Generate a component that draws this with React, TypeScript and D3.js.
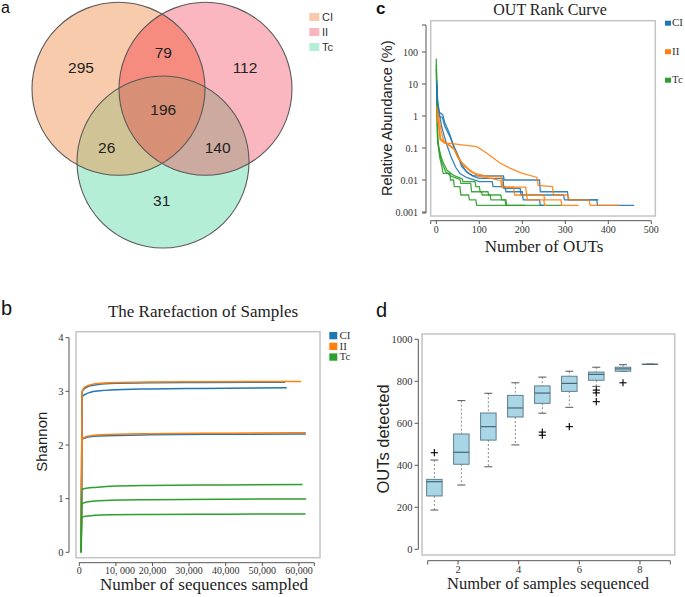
import React from 'react';
import * as d3 from 'd3';

// ---------- Panel a: Venn ----------
const vennSets = ['CI', 'II', 'Tc'];
const vennLegendColors = ['#f9c9ab', '#fbb5bf', '#b3eed6'];
const vennRegions = ['CI', 'CI∩II', 'II', 'CI∩II∩Tc', 'CI∩Tc', 'II∩Tc', 'Tc'];
const vennCounts = [295, 79, 112, 196, 26, 140, 31];

// ---------- shared groups ----------
const groups = ['CI', 'II', 'Tc'];
const groupColors = ['#1f77b4', '#ff7f0e', '#2ca02c'];

// ---------- Panel b: rarefaction (sequences, Shannon) ----------
const rareCI1 = [[500, 0], [750, 2.98], [1200, 3.04], [2400, 3.09], [4300, 3.12], [8400, 3.145], [19300, 3.16], [33000, 3.165], [56200, 3.17]];
const rareCI2 = [[500, 0], [750, 2.9], [1500, 2.94], [2900, 2.98], [5600, 3.01], [8400, 3.025], [19300, 3.045], [33000, 3.055], [56700, 3.065]];
const rareCI3 = [[500, 0], [750, 2.1], [1500, 2.13], [2900, 2.155], [5600, 2.17], [19300, 2.19], [40000, 2.2], [61900, 2.205]];
const rareII1 = [[500, 0], [750, 3.0], [1200, 3.06], [2400, 3.11], [4300, 3.14], [8400, 3.16], [19300, 3.175], [33000, 3.18], [60600, 3.185]];
const rareII2 = [[500, 0], [750, 2.11], [1500, 2.145], [2900, 2.17], [5600, 2.19], [19300, 2.21], [40000, 2.22], [61900, 2.228]];
const rareTc1 = [[500, 0], [750, 1.17], [1500, 1.19], [4300, 1.21], [8400, 1.23], [19300, 1.245], [40000, 1.255], [61000, 1.266]];
const rareTc2 = [[500, 0], [750, 0.9], [1500, 0.93], [4300, 0.955], [8400, 0.97], [19300, 0.98], [40000, 0.99], [62000, 0.995]];
const rareTc3 = [[500, 0], [750, 0.65], [1500, 0.67], [4300, 0.69], [8400, 0.7], [19300, 0.705], [40000, 0.71], [61800, 0.715]];
const rareTicks = [0, 10000, 20000, 30000, 40000, 50000, 60000];
const rareTickLabels = ['0', '10, 000', '20,000', '30,000', '40,000', '50,000', '60,000'];
const shannonTicks = [0, 1, 2, 3, 4];

// ---------- Panel c: rank abundance (rank, relative abundance %) ----------
const rankCI1 = [[1, 13], [3, 3.2], [8, 0.95], [14, 0.9], [20, 0.47], [32, 0.22], [44, 0.087], [51, 0.054], [59, 0.026], [75, 0.016], [90, 0.0126], [100, 0.0112], [155, 0.0112], [157, 0.0055], [195, 0.0055], [197, 0.0034], [296, 0.0034], [298, 0.0024], [373, 0.0024], [375, 0.0016], [460, 0.0016]];
const rankCI2 = [[1, 10], [3, 2.5], [7, 1.3], [15, 1.1], [20, 0.6], [30, 0.3], [40, 0.12], [50, 0.06], [60, 0.03], [70, 0.018], [85, 0.0135], [156, 0.0135], [158, 0.01], [240, 0.01], [242, 0.0043], [305, 0.0043], [307, 0.0024], [377, 0.0024]];
const rankCI3 = [[1, 8], [3, 2], [8, 1.0], [12, 0.5], [18, 0.25], [25, 0.12], [35, 0.05], [45, 0.025], [55, 0.016], [70, 0.012], [100, 0.0089], [130, 0.0089], [132, 0.0062], [160, 0.0062], [162, 0.0043], [200, 0.0043], [202, 0.0024], [240, 0.0024], [242, 0.0016], [251, 0.0016]];
const rankII1 = [[1, 1.5], [5, 0.6], [9, 0.18], [20, 0.14], [32, 0.14], [60, 0.125], [94, 0.11], [117, 0.07], [148, 0.034], [170, 0.024], [195, 0.017], [234, 0.012], [237, 0.0068], [270, 0.0062], [273, 0.0034], [306, 0.0034], [309, 0.0024], [355, 0.0024], [358, 0.0016], [424, 0.0016]];
const rankII2 = [[1, 2], [4, 1.2], [8, 0.6], [12, 0.3], [18, 0.16], [28, 0.13], [40, 0.1], [50, 0.05], [60, 0.035], [75, 0.022], [90, 0.016], [120, 0.013], [152, 0.013], [154, 0.006], [180, 0.006], [182, 0.0034], [250, 0.0034], [252, 0.0024], [290, 0.0024], [292, 0.0016], [331, 0.0016]];
const rankII3 = [[1, 1], [3, 0.7], [6, 0.5], [10, 0.2], [18, 0.15], [30, 0.12], [42, 0.09], [52, 0.05], [62, 0.03], [80, 0.018], [100, 0.013], [130, 0.011], [150, 0.0095], [152, 0.006], [208, 0.006], [210, 0.0034], [212, 0.0024], [250, 0.0024], [252, 0.0016], [257, 0.0016]];
const rankTc1 = [[0, 63], [1, 10], [2, 1], [3, 0.3], [5, 0.1], [8, 0.05], [12, 0.03], [16, 0.016], [32, 0.016], [33, 0.01], [40, 0.01], [42, 0.0062], [55, 0.0062], [57, 0.0034], [75, 0.0034], [77, 0.0024], [92, 0.0024], [94, 0.0016], [292, 0.0016]];
const rankTc2 = [[0, 40], [1, 8], [2, 1], [3, 0.2], [6, 0.1], [10, 0.05], [15, 0.03], [22, 0.018], [35, 0.013], [55, 0.0105], [57, 0.0079], [80, 0.0079], [82, 0.0043], [105, 0.0043], [107, 0.0034], [125, 0.0034], [127, 0.0024], [160, 0.0024], [162, 0.0016], [206, 0.0016]];
const rankTc3 = [[0, 30], [1, 5], [2, 0.9], [3, 0.15], [6, 0.1], [10, 0.06], [16, 0.035], [25, 0.02], [40, 0.014], [60, 0.011], [62, 0.0089], [90, 0.0089], [92, 0.0062], [100, 0.0062], [102, 0.0043], [120, 0.0043], [122, 0.0034], [150, 0.0034], [152, 0.0024], [162, 0.0024], [164, 0.0016]];
const rankTicksX = [0, 100, 200, 300, 400, 500];
const rankTicksY = [100, 10, 1, 0.1, 0.01, 0.001];
const rankTickLabelsY = ['100', '10', '1', '0.1', '0.01', '0.001'];

// ---------- Panel d: OTU accumulation boxplot ----------
const boxPositions = [1.22, 2.11, 3.0, 3.89, 4.78, 5.67, 6.56, 7.44, 8.33];
const boxLow = [187, 306, 393, 497, 648, 676, 776, 848, 881];
const boxQ1 = [254, 405, 520, 630, 695, 752, 805, 848, 881];
const boxMedian = [322, 462, 584, 673, 744, 790, 833, 859, 881];
const boxQ3 = [333, 549, 649, 733, 778, 824, 844, 867, 881];
const boxHigh = [425, 708, 743, 793, 820, 848, 867, 879, 881];
const boxOutliers = [[460], [], [], [], [558, 543], [584], [758, 745, 703], [793], []];
const samplesTicks = [2, 4, 6, 8];
const otuTicks = [0, 200, 400, 600, 800, 1000];

const SERIF = "'Liberation Serif', 'Times New Roman', serif";
const SANS = "'Liberation Sans', Arial, sans-serif";

function Venn() {
  const circles = [
    { cx: 118.5, cy: 88.8, r: 86.5 },
    { cx: 205.5, cy: 88.8, r: 86.5 },
    { cx: 163, cy: 162, r: 86 },
  ];
  const [ci, ii, tc] = circles;
  const regionColor: Record<string, string> = {
    'CI': '#f8cbad', 'II': '#fab7c0', 'Tc': '#b5eed7',
    'CI∩II': '#f68c7f', 'CI∩Tc': '#d0c496', 'II∩Tc': '#cdaaa0', 'CI∩II∩Tc': '#d78f75',
  };
  const labelPos: Record<string, [number, number]> = {
    'CI': [81, 67], 'CI∩II': [163.3, 52], 'II': [245, 67], 'CI∩II∩Tc': [163.3, 109.5],
    'CI∩Tc': [106.7, 147], 'II∩Tc': [217.7, 147], 'Tc': [161.7, 200.5],
  };
  return (
    <g>
      <defs>
        <clipPath id="clipCI"><circle cx={ci.cx} cy={ci.cy} r={ci.r} /></clipPath>
        <clipPath id="clipII"><circle cx={ii.cx} cy={ii.cy} r={ii.r} /></clipPath>
      </defs>
      <circle cx={tc.cx} cy={tc.cy} r={tc.r} fill={regionColor['Tc']} />
      <circle cx={ci.cx} cy={ci.cy} r={ci.r} fill={regionColor['CI']} />
      <circle cx={ii.cx} cy={ii.cy} r={ii.r} fill={regionColor['II']} />
      <g clipPath="url(#clipCI)"><circle cx={ii.cx} cy={ii.cy} r={ii.r} fill={regionColor['CI∩II']} /></g>
      <g clipPath="url(#clipCI)"><circle cx={tc.cx} cy={tc.cy} r={tc.r} fill={regionColor['CI∩Tc']} /></g>
      <g clipPath="url(#clipII)"><circle cx={tc.cx} cy={tc.cy} r={tc.r} fill={regionColor['II∩Tc']} /></g>
      <g clipPath="url(#clipCI)"><g clipPath="url(#clipII)"><circle cx={tc.cx} cy={tc.cy} r={tc.r} fill={regionColor['CI∩II∩Tc']} /></g></g>
      {circles.map((c, i) => (
        <circle key={i} cx={c.cx} cy={c.cy} r={c.r} fill="none" stroke="#5a5a5a" strokeWidth={1.1} />
      ))}
      {vennRegions.map((r, i) => (
        <text key={r} x={labelPos[r][0]} y={labelPos[r][1]} textAnchor="middle" dominantBaseline="central"
          fontFamily={SANS} fontSize={15.5} fill="#222">{vennCounts[i]}</text>
      ))}
      {vennSets.map((s, i) => (
        <g key={s}>
          <rect x={309.3} y={13 + i * 15} width={10} height={8} fill={vennLegendColors[i]} />
          <text x={322} y={20.5 + i * 15} fontFamily={SANS} fontSize={11} fill="#333">{s}</text>
        </g>
      ))}
    </g>
  );
}

function Rarefaction() {
  const x = d3.scaleLinear().domain([0, 60000]).range([79.3, 298.9]);
  const y = d3.scaleLinear().domain([0, 4]).range([552.3, 337.7]);
  const line = d3.line<number[]>().x(d => x(d[0])).y(d => y(d[1])).curve(d3.curveMonotoneX);
  const series = [
    { g: 0, pts: rareCI1 }, { g: 0, pts: rareCI2 }, { g: 0, pts: rareCI3 },
    { g: 1, pts: rareII1 }, { g: 1, pts: rareII2 },
    { g: 2, pts: rareTc1 }, { g: 2, pts: rareTc2 }, { g: 2, pts: rareTc3 },
  ];
  return (
    <g>
      <text x={203} y={317} textAnchor="middle" fontFamily={SERIF} fontSize={17} fill="#222">The Rarefaction of Samples</text>
      <rect x={76} y={331.7} width={244} height={226} fill="none" stroke="#c4c4c4" strokeWidth={1.5} />
      {series.map((s, i) => (
        <path key={i} d={line(s.pts) || ''} fill="none" stroke={groupColors[s.g]} strokeWidth={1.5} />
      ))}
      {/* y axis */}
      <line x1={69} x2={69} y1={y(4)} y2={y(0)} stroke="#555" strokeWidth={1} />
      {shannonTicks.map(t => (
        <g key={t}>
          <line x1={65.5} x2={69} y1={y(t)} y2={y(t)} stroke="#555" />
          <text x={63.5} y={y(t) + 3.5} textAnchor="end" fontFamily={SERIF} fontSize={10.5} fill="#333">{t}</text>
        </g>
      ))}
      {/* x axis */}
      <line x1={79} x2={314.3} y1={562.7} y2={562.7} stroke="#555" strokeWidth={1} />
      <line x1={314.3} x2={314.3} y1={562.7} y2={566} stroke="#555" />
      {rareTicks.map((t, i) => (
        <g key={t}>
          <line x1={x(t)} x2={x(t)} y1={562.7} y2={566} stroke="#555" />
          <text x={x(t) + (i === 1 ? 4 : 0)} y={573.5} textAnchor="middle" fontFamily={SERIF} fontSize={10} fill="#333">{rareTickLabels[i]}</text>
        </g>
      ))}
      <text x={204} y={590} textAnchor="middle" fontFamily={SERIF} fontSize={17} fill="#222">Number of sequences sampled</text>
      <text transform="translate(41.7,441.7) rotate(-90)" textAnchor="middle" dominantBaseline="central" fontFamily={SANS} fontSize={15} fill="#222">Shannon</text>
      {groups.map((g, i) => (
        <g key={g}>
          <rect x={329.3} y={332 + i * 10.7} width={8} height={7.3} fill={groupColors[i]} />
          <text x={339.5} y={339 + i * 10.7} fontFamily={SERIF} fontSize={11} fill="#333">{g}</text>
        </g>
      ))}
    </g>
  );
}

function RankCurve() {
  const x = d3.scaleLinear().domain([0, 500]).range([436.3, 651.3]);
  const y = d3.scaleLog().domain([0.001, 100]).range([212, 52]);
  const line = d3.line<number[]>().x(d => x(d[0])).y(d => y(d[1]));
  const series = [
    { g: 2, pts: rankTc1 }, { g: 2, pts: rankTc2 }, { g: 2, pts: rankTc3 },
    { g: 0, pts: rankCI1 }, { g: 0, pts: rankCI2 }, { g: 0, pts: rankCI3 },
    { g: 1, pts: rankII1 }, { g: 1, pts: rankII2 }, { g: 1, pts: rankII3 },
  ];
  return (
    <g>
      <text x={550} y={15} textAnchor="middle" fontFamily={SERIF} fontSize={16} fill="#222">OUT Rank Curve</text>
      <rect x={430.7} y={20.7} width={224.6} height={195.3} fill="none" stroke="#c4c4c4" strokeWidth={1.5} />
      {series.map((s, i) => (
        <path key={i} d={line(s.pts) || ''} fill="none" stroke={groupColors[s.g]} strokeWidth={1.3} strokeOpacity={0.9} />
      ))}
      {/* y axis */}
      <line x1={426} x2={426} y1={25} y2={213} stroke="#555" />
      <line x1={422} x2={426} y1={25} y2={25} stroke="#555" />
      <line x1={422} x2={426} y1={213} y2={213} stroke="#555" />
      {rankTicksY.map((t, i) => (
        <g key={t}>
          <line x1={422} x2={426} y1={y(t)} y2={y(t)} stroke="#555" />
          <text x={418} y={y(t) + 3.5} textAnchor="end" fontFamily={SERIF} fontSize={10} fill="#333">{rankTickLabelsY[i]}</text>
        </g>
      ))}
      {/* x axis */}
      <line x1={430.7} x2={651.3} y1={220.7} y2={220.7} stroke="#555" />
      <line x1={430.7} x2={430.7} y1={220.7} y2={224} stroke="#555" />
      {rankTicksX.map(t => (
        <g key={t}>
          <line x1={x(t)} x2={x(t)} y1={220.7} y2={224} stroke="#555" />
          <text x={x(t)} y={233} textAnchor="middle" fontFamily={SERIF} fontSize={10} fill="#333">{t}</text>
        </g>
      ))}
      <text x={544} y={252} textAnchor="middle" fontFamily={SERIF} fontSize={17} fill="#222">Number of OUTs</text>
      <text transform="translate(386.7,118.3) rotate(-90)" textAnchor="middle" dominantBaseline="central" fontFamily={SANS} fontSize={14.5} fill="#222">Relative Abundance (%)</text>
      {groups.map((g, i) => (
        <g key={g}>
          <rect x={665} y={20.7 + i * 28.5} width={6} height={5} fill={groupColors[i]} />
          <text x={672} y={26 + i * 28.5} fontFamily={SERIF} fontSize={11} fill="#333">{g}</text>
        </g>
      ))}
    </g>
  );
}

function BoxPlot() {
  const x = d3.scaleLinear().domain([1, 9]).range([427.7, 670.3]);
  const y = d3.scaleLinear().domain([0, 1000]).range([549.3, 339.3]);
  const bw = 15.5;
  const cw = 8;
  return (
    <g>
      <rect x={422} y={334} width={252.7} height={221} fill="none" stroke="#c4c4c4" strokeWidth={1.5} />
      {boxPositions.map((p, i) => {
        const cx = x(p);
        return (
          <g key={i}>
            <line x1={cx} x2={cx} y1={y(boxHigh[i])} y2={y(boxQ3[i])} stroke="#8a8a8a" strokeDasharray="2,2" />
            <line x1={cx} x2={cx} y1={y(boxQ1[i])} y2={y(boxLow[i])} stroke="#8a8a8a" strokeDasharray="2,2" />
            <line x1={cx - cw / 2} x2={cx + cw / 2} y1={y(boxHigh[i])} y2={y(boxHigh[i])} stroke="#555" strokeWidth={1} />
            <line x1={cx - cw / 2} x2={cx + cw / 2} y1={y(boxLow[i])} y2={y(boxLow[i])} stroke="#555" strokeWidth={1} />
            <rect x={cx - bw / 2} y={y(boxQ3[i])} width={bw} height={Math.max(0.01, y(boxQ1[i]) - y(boxQ3[i]))}
              fill="#a8d6e6" stroke="#5f7f8e" strokeWidth={1} />
            <line x1={cx - bw / 2} x2={cx + bw / 2} y1={y(boxMedian[i])} y2={y(boxMedian[i])} stroke="#4a6470" strokeWidth={1.2} />
            {boxOutliers[i].map((o, j) => (
              <g key={j} stroke="#111" strokeWidth={1.2}>
                <line x1={cx - 3.6} x2={cx + 3.6} y1={y(o)} y2={y(o)} />
                <line x1={cx} x2={cx} y1={y(o) - 3.6} y2={y(o) + 3.6} />
              </g>
            ))}
          </g>
        );
      })}
      {/* y axis */}
      <line x1={418.3} x2={418.3} y1={y(1000)} y2={y(0)} stroke="#555" />
      {otuTicks.map(t => (
        <g key={t}>
          <line x1={414.5} x2={418.3} y1={y(t)} y2={y(t)} stroke="#555" />
          <text x={412.5} y={y(t) + 3.5} textAnchor="end" fontFamily={SERIF} fontSize={10.5} fill="#333">{t}</text>
        </g>
      ))}
      {/* x axis */}
      <line x1={x(1)} x2={x(9)} y1={560.7} y2={560.7} stroke="#555" />
      {[1, 9].map(t => (
        <line key={t} x1={x(t)} x2={x(t)} y1={560.7} y2={564.5} stroke="#555" />
      ))}
      {samplesTicks.map(t => (
        <g key={t}>
          <line x1={x(t)} x2={x(t)} y1={560.7} y2={564.5} stroke="#555" />
          <text x={x(t)} y={573} textAnchor="middle" fontFamily={SERIF} fontSize={10.5} fill="#333">{t}</text>
        </g>
      ))}
      <text x={548} y={589} textAnchor="middle" fontFamily={SERIF} fontSize={16.5} fill="#222">Number of samples sequenced</text>
      <text transform="translate(382.5,439) rotate(-90)" textAnchor="middle" dominantBaseline="central" fontFamily={SANS} fontSize={16.5} fill="#222">OUTs detected</text>
    </g>
  );
}

export default function App() {
  return (
    <svg width={685} height={597} style={{ position: 'absolute', left: 0, top: 0, background: '#fff' }}>
      <rect x={0} y={0} width={685} height={597} fill="#fff" />
      <Venn />
      <Rarefaction />
      <RankCurve />
      <BoxPlot />
      <text x={1} y={13} fontFamily={SANS} fontSize={16} fill="#111">a</text>
      <text x={1} y={315} fontFamily={SANS} fontSize={20} fill="#111">b</text>
      <text x={376} y={13.5} fontFamily={SANS} fontSize={17} fontWeight="bold" fill="#111">c</text>
      <text x={376} y={316.5} fontFamily={SANS} fontSize={20} fill="#111">d</text>
    </svg>
  );
}
